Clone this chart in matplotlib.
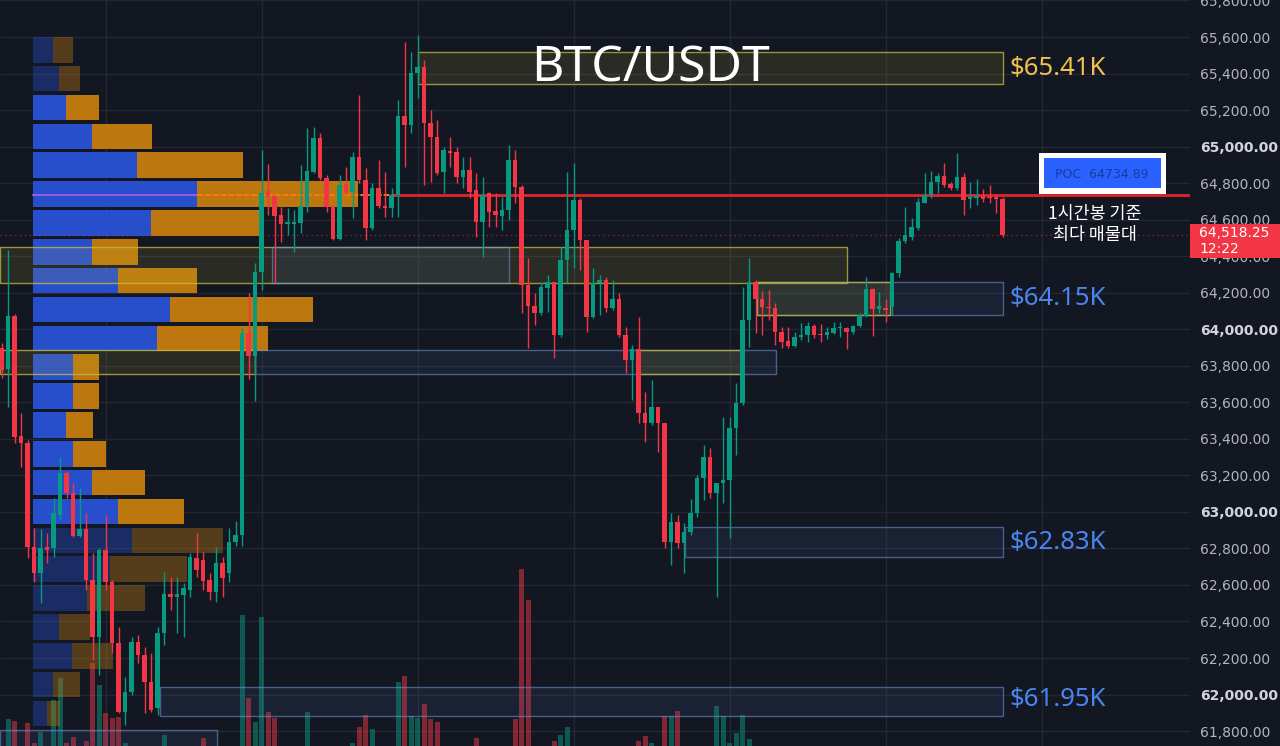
import numpy as np
import matplotlib
matplotlib.use("Agg")
import matplotlib.pyplot as plt
from matplotlib.patches import Rectangle

# ---------------- data ----------------
opens = [63898, 63783, 64073, 63416, 63377, 62808, 62666, 62808, 62802, 62983,
         63213, 63104, 62868, 62906, 62627, 62315, 62791, 62616, 62282, 61904,
         62014, 62288, 62217, 62069, 61926, 62337, 62551, 62534, 62545, 62573,
         62748, 62737, 62627, 62562, 62720, 62666, 62835, 62874, 63980, 63854,
         64314, 64757, 64730, 64626, 64576, 64576, 64582, 64675, 64861, 65047,
         64828, 64675, 64494, 64796, 64752, 64943, 64817, 64555, 64774, 64675,
         64664, 64735, 65168, 65119, 65403, 65436, 65130, 65053, 64861, 64976,
         64971, 64834, 64872, 64763, 64587, 64746, 64648, 64620, 64653, 64927,
         64779, 64242, 64127, 64089, 64226, 64259, 63969, 64379, 64544, 64708,
         64489, 64067, 64253, 64270, 64117, 64166, 63969, 63832, 63892, 63542,
         63487, 63574, 63487, 62835, 62945, 62830, 62890, 62994, 63186, 63301,
         63104, 63158, 63175, 63459, 63596, 64051, 64259, 64166, 64122, 64117,
         63985, 63936, 63909, 63958, 63969, 64018, 63974, 63969, 63980, 64007,
         64007, 63985, 64018, 64073, 64221, 64111, 64117, 64122, 64308, 64483,
         64505, 64555, 64691, 64735, 64806, 64839, 64796, 64774, 64834, 64713,
         64719, 64730, 64724, 64724, 64713]
closes = [63777, 64073, 63410, 63377, 62808, 62666, 62802, 62791, 62994, 63213,
          63104, 62868, 62906, 62627, 62315, 62791, 62616, 62282, 61904, 62014,
          62288, 62217, 62069, 61915, 62337, 62551, 62534, 62551, 62583, 62753,
          62682, 62622, 62562, 62720, 62638, 62835, 62874, 63980, 63854, 64314,
          64746, 64724, 64620, 64576, 64587, 64587, 64675, 64867, 65047, 64828,
          64670, 64494, 64790, 64746, 64943, 64817, 64555, 64774, 64675, 64664,
          64735, 65168, 65119, 65403, 65436, 65130, 65053, 64856, 64982, 64965,
          64834, 64872, 64752, 64587, 64735, 64642, 64626, 64653, 64927, 64779,
          64242, 64127, 64089, 64232, 64259, 63969, 64379, 64544, 64708, 64489,
          64067, 64253, 64270, 64117, 64166, 63969, 63832, 63892, 63542, 63487,
          63574, 63487, 62835, 62945, 62830, 62890, 62994, 63186, 63301, 63104,
          63158, 63175, 63459, 63596, 64051, 64259, 64166, 64122, 64117, 63985,
          63930, 63909, 63958, 63969, 64018, 63969, 63969, 63985, 64007, 64013,
          63985, 64018, 64078, 64221, 64111, 64127, 64106, 64308, 64483, 64516,
          64560, 64697, 64735, 64806, 64839, 64790, 64774, 64834, 64708, 64724,
          64730, 64713, 64719, 64713, 64518.25]
highs = [63925, 64434, 64084, 63542, 63394, 62912, 62906, 62885, 63076, 63301,
         63224, 63158, 63131, 62994, 62775, 62802, 62983, 62627, 62370, 62096,
         62315, 62326, 62260, 62227, 62370, 62671, 62644, 62644, 62611, 62775,
         62885, 62780, 62666, 62808, 62753, 62912, 62950, 64013, 64199, 64363,
         64982, 64905, 64735, 64670, 64664, 64653, 64900, 65102, 65108, 65075,
         64845, 64681, 64845, 64889, 64971, 65283, 64883, 64801, 64927, 64861,
         64774, 65255, 65573, 65518, 65611, 65474, 65201, 65146, 64998, 65053,
         64998, 64943, 64943, 64856, 64834, 64752, 64746, 64724, 65009, 64982,
         64790, 64390, 64199, 64259, 64297, 64259, 64451, 64861, 64911, 64719,
         64489, 64336, 64297, 64286, 64270, 64199, 64013, 63914, 64067, 63657,
         63722, 63574, 63487, 62994, 62983, 62939, 63071, 63202, 63366, 63350,
         63158, 63520, 63520, 63706, 64232, 64390, 64270, 64210, 64215, 64144,
         64013, 64013, 63985, 64034, 64040, 64029, 64029, 64013, 64040, 64040,
         64013, 64023, 64089, 64286, 64226, 64204, 64166, 64314, 64500, 64670,
         64609, 64719, 64856, 64867, 64856, 64911, 64806, 64965, 64856, 64806,
         64823, 64768, 64790, 64735, 64724]
lows = [63733, 63574, 63377, 63246, 62748, 62616, 62501, 62720, 62753, 62956,
        63076, 62863, 62863, 62573, 62189, 62107, 62573, 62227, 61899, 61833,
        61998, 62173, 61899, 61904, 61888, 62271, 62463, 62337, 62315, 62534,
        62644, 62573, 62518, 62507, 62534, 62616, 62813, 62813, 63728, 63607,
        64215, 64626, 64259, 64478, 64516, 64423, 64527, 64642, 64856, 64817,
        64642, 64489, 64489, 64735, 64609, 64801, 64489, 64544, 64664, 64615,
        64615, 64615, 64889, 65075, 65266, 64790, 64806, 64845, 64746, 64889,
        64801, 64774, 64719, 64505, 64396, 64560, 64560, 64544, 64598, 64691,
        64089, 63898, 64023, 64078, 64095, 63843, 63958, 64253, 64336, 64325,
        63985, 64062, 64078, 64095, 64106, 63958, 63761, 63613, 63487, 63383,
        63476, 63328, 62802, 62709, 62802, 62666, 62874, 62972, 63065, 63076,
        62534, 63049, 62857, 63312, 63585, 63903, 63980, 63969, 64051, 63914,
        63898, 63898, 63903, 63941, 63930, 63952, 63930, 63947, 63974, 63958,
        63892, 63974, 64013, 64067, 63963, 64089, 64040, 64078, 64286, 64472,
        64489, 64544, 64691, 64719, 64746, 64779, 64763, 64763, 64626, 64664,
        64681, 64697, 64691, 64637, 64505]
volumes = [0, 270, 250, 0, 230, 30, 140, 0, 460, 680,
           30, 90, 0, 50, 830, 610, 330, 280, 290, 30,
           0, 0, 0, 0, 0, 110, 0, 0, 0, 0,
           0, 80, 0, 0, 0, 0, 0, 1310, 480, 240,
           1290, 340, 280, 0, 0, 0, 0, 340, 0, 0,
           0, 0, 0, 0, 30, 190, 310, 170, 0, 0,
           0, 640, 700, 300, 280, 420, 270, 240, 0, 0,
           0, 0, 0, 80, 0, 0, 0, 0, 0, 270,
           1770, 1460, 0, 0, 0, 50, 110, 190, 0, 0,
           0, 0, 0, 0, 0, 0, 0, 0, 50, 100,
           30, 0, 300, 300, 350, 0, 0, 0, 0, 0,
           400, 300, 30, 130, 310, 70, 0, 0, 0, 0,
           0, 0, 0, 0, 0, 0, 0, 0, 0, 0,
           0, 0, 0, 0, 0, 0, 0, 0, 0, 0,
           0, 0, 0, 0, 0, 0, 0, 0, 0, 0,
           0, 0, 0, 0, 0]

price_ticks = list(range(61800, 65801, 200))
day_starts = [16, 40, 64, 88, 112, 136, 160]

profile_levels = [65530, 65372, 65214, 65056, 64898, 64740, 64582, 64424, 64266, 64108,
                  63950, 63792, 63634, 63476, 63318, 63160, 63002, 62844, 62686, 62528,
                  62370, 62212, 62054, 61896]
profile_up = [20, 26, 33, 59, 104, 164, 118, 59, 85, 137, 124, 40, 40, 33, 40, 59,
              85, 99, 77, 54, 26, 39, 20, 14]
profile_down = [20, 21, 33, 60, 106, 161, 111, 46, 79, 143, 111, 26, 26, 27, 33, 53,
                66, 91, 77, 58, 31, 41, 27, 13]
value_area_rows = (2, 16)
poc_price = 64734.89
last_price = 64518.25
last_time = "12:22"

# zones: (start index, end index, low price, high price, kind)
zones = [
    (64, 154, 65343, 65518, "y"),
    (-0.3, 130, 64254, 64451, "y"),
    (41.6, 78, 64254, 64451, "b"),
    (116.2, 154, 64078, 64259, "b"),
    (116.2, 136.7, 64078, 64259, "y"),
    (-0.3, 39, 63755, 63887, "y"),
    (39, 119.1, 63755, 63887, "b"),
    (98, 114, 63755, 63887, "y"),
    (105.1, 154, 62753, 62917, "b"),
    (24.4, 154, 61882, 62041, "b"),
    (-0.3, 33.1, 61650, 61806, "b"),
]
zone_labels = [("$65.41K", 65430, "#f2c14e"), ("$64.15K", 64168, "#4a86f0"),
               ("$62.83K", 62835, "#4a86f0"), ("$61.95K", 61975, "#4a86f0")]

# ---------------- style ----------------
BG = "#131722"
GREEN = "#089981"
RED = "#f23645"
W, H = 1280, 746
PLOT_W = 1190
XL = (-0.26, 182.82)
YL = (61718.3, 65802.6)

fig = plt.figure(figsize=(W / 100, H / 100), dpi=100, facecolor=BG)
rect = [0, 0, PLOT_W / W, 1]

ax_bg = fig.add_axes(rect, zorder=0)
ax_vol = fig.add_axes(rect, zorder=1)
ax_prof = fig.add_axes(rect, zorder=2)
ax = fig.add_axes(rect, zorder=3)

for a in (ax_bg, ax_vol, ax_prof, ax):
    for s in a.spines.values():
        s.set_visible(False)
    a.set_xticks([])
ax_bg.set_facecolor(BG)
for a in (ax_vol, ax_prof, ax):
    a.patch.set_visible(False)

# grid
ax_bg.set_xlim(*XL)
ax_bg.set_ylim(*YL)
ax_bg.set_yticks([])
ax_bg.hlines(price_ticks, XL[0], XL[1], color="#232732", lw=1)
ax_bg.vlines(day_starts, YL[0], YL[1], color="#232732", lw=1)

n = len(opens)
idx = np.arange(n)
o = np.array(opens, float)
c = np.array(closes, float)
h = np.array(highs, float)
l = np.array(lows, float)
up = c >= o
cols = np.where(up, GREEN, RED)

# volume
ax_vol.set_xlim(*XL)
ax_vol.set_ylim(0, 7460)
ax_vol.set_yticks([])
ax_vol.bar(idx, volumes, width=0.78, color=cols, alpha=0.5, linewidth=0)

# volume profile
ax_prof.set_ylim(*YL)
ax_prof.set_xlim(-33, PLOT_W - 33)
ax_prof.set_yticks([])
blue_c, orange_c = [], []
for k in range(len(profile_levels)):
    a_ = 0.92 if value_area_rows[0] <= k <= value_area_rows[1] else 0.36
    blue_c.append((0.16, 0.33, 0.86, a_))
    orange_c.append((0.80, 0.50, 0.05, a_))
ax_prof.barh(profile_levels, profile_up, height=140, left=0, color=blue_c, linewidth=0)
ax_prof.barh(profile_levels, profile_down, height=140, left=profile_up, color=orange_c,
             linewidth=0)
k_poc = int(np.argmax(np.array(profile_up) + np.array(profile_down)))
ax_prof.plot([0, profile_up[k_poc]], [poc_price, poc_price], color="#b060e0", lw=1.2)
ax_prof.plot([profile_up[k_poc], 362], [poc_price, poc_price], color="#ff7a10", lw=1.4,
             ls=(0, (3, 1)))

# main axes
ax.set_xlim(*XL)
ax.set_ylim(*YL)

for (x0, x1, p0, p1, kind) in zones:
    if kind == "y":
        fc, ec = (0.80, 0.76, 0.22, 0.12), (0.78, 0.74, 0.25, 0.75)
    else:
        fc, ec = (0.33, 0.48, 0.78, 0.10), (0.45, 0.60, 0.85, 0.55)
    ax.add_patch(Rectangle((x0, p0), x1 - x0, p1 - p0, facecolor=fc, edgecolor=ec,
                           lw=1, zorder=2))

# POC line and last price line
ax.plot([60.5, XL[1]], [poc_price, poc_price], color="#e3242b", lw=2, zorder=4)
ax.axhline(last_price, color=RED, alpha=0.5, lw=1, ls=(0, (1, 2.5)), zorder=3)

# candles
ax.vlines(idx, l, h, colors=cols, lw=1, zorder=5)
body = np.maximum(np.abs(c - o), 6)
ax.bar(idx, body, bottom=np.minimum(o, c), width=0.7, color=cols, linewidth=0, zorder=6)

# zone labels
for txt, p, col in zone_labels:
    ax.text(155.1, p, txt, color=col, fontsize=18.5, family="Noto Sans",
            fontweight="medium", va="center", ha="left", zorder=8)

# price axis
ax.yaxis.tick_right()
ax.set_yticks(price_ticks, labels=[f"{t:,.2f}" for t in price_ticks])
ax.tick_params(axis="y", length=0, pad=7, labelsize=10, labelcolor="#b2b5be")
for t, lab in zip(price_ticks, ax.get_yticklabels()):
    if t % 1000 == 0:
        lab.set_fontweight("bold")
        lab.set_color("#d1d4dc")

# title
fig.text(651 / W, 1 - 68 / H, "BTC/USDT", color="white", fontsize=36,
         family="Noto Sans", ha="center", va="center", zorder=12)

# last price box
fig.add_artist(Rectangle((PLOT_W / W, 1 - 258 / H), (W - PLOT_W) / W, 34 / H,
                         transform=fig.transFigure, facecolor=RED, edgecolor="none",
                         zorder=10))
fig.text(1199 / W, 1 - 233 / H, f"{last_price:,.2f}", color="white", fontsize=10,
         ha="left", va="center", zorder=11)
fig.text(1199 / W, 1 - 249 / H, last_time, color="white", fontsize=10,
         ha="left", va="center", zorder=11)

# POC label
fig.add_artist(Rectangle((1039 / W, 1 - 194 / H), 127 / W, 41 / H,
                         transform=fig.transFigure, facecolor="white",
                         edgecolor="none", zorder=10))
fig.add_artist(Rectangle((1044 / W, 1 - 188 / H), 117 / W, 30 / H,
                         transform=fig.transFigure, facecolor="#2962ff",
                         edgecolor="none", zorder=11))
fig.text(1102 / W, 1 - 174 / H, f"POC  {poc_price:.2f}", color="#1a3a9c", fontsize=9,
         ha="center", va="center", zorder=12)

kfam = ["Noto Sans CJK KR", "DejaVu Sans"]
fig.text(1095 / W, 1 - 214 / H, "1시간봉 기준", color="white", fontsize=12.5,
         family=kfam, fontweight="medium", ha="center", va="center", zorder=12)
fig.text(1095 / W, 1 - 235 / H, "최다 매물대", color="white", fontsize=12.5,
         family=kfam, fontweight="medium", ha="center", va="center", zorder=12)

fig.savefig("out.png", dpi=100, facecolor=BG)
